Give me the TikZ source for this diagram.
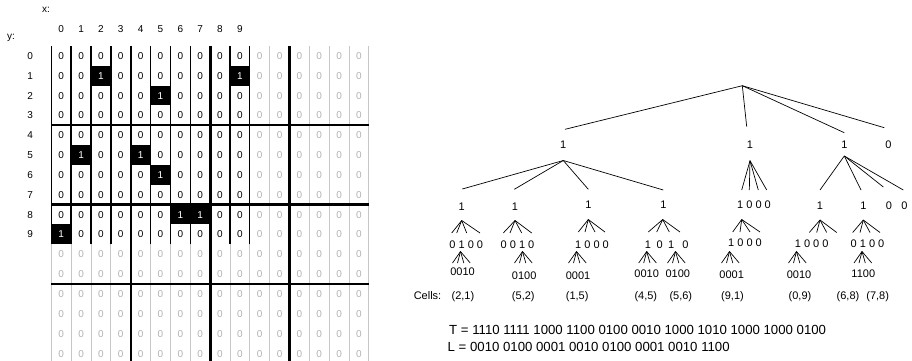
\documentclass[tikz,border=0pt]{standalone}
\usepackage{fontspec}
\setmainfont{Liberation Sans}
\usetikzlibrary{calc}
\newcommand\fan[3]{%
  \coordinate (#1) at (#2);
  \foreach \dx/\dy [count=\k] in {#3} {
    \coordinate (#1-\k) at ($(#1)+(\dx,\dy)$);
    \draw[edge] (#1) -- (#1-\k);
  }}
\newcommand\leaffan[2]{\fan{#1}{#2}{-8/11.5,-3/11.5,3.3/11.5,9.7/11.5}}
\begin{document}
\begin{tikzpicture}[x=1pt,y=-1pt,
  edge/.style={line width=0.7pt},
  g0/.style={font=\fontsize{10}{12}\selectfont,anchor=base,yshift=-3.6pt,inner sep=0pt},
  gz/.style={text=gray!60},
  t11/.style={font=\fontsize{11}{13}\selectfont,anchor=base,yshift=-3.95pt,inner sep=0pt},
  t13/.style={font=\fontsize{13.2}{15}\selectfont,anchor=base west,yshift=-4.7pt,inner sep=0pt},
  gridgray/.style={draw=gray!45,line width=0.8pt},
  cellblack/.style={draw=black,line width=1.4pt},
  quad/.style={line width=2.2pt},
  half/.style={line width=2.8pt}]
\useasboundingbox (0,0) rectangle (912,360);
\clip (0,0) rectangle (912,360);
% ---------- grid ----------
\node[g0] (xlab) at (46,9) {x:};
\node[g0] (ylab) at (11,36) {y:};
\begin{scope}[shift={(51.3,45.8)},x=19.85pt,y=-19.85pt]
  \draw[gridgray,step=1] (0,0) grid (16,16);
  \foreach \i in {0,...,15}{\foreach \j in {0,...,15}{
    \pgfmathtruncatemacro\inside{and(\i<10,\j<10)}
    \ifnum\inside=1
      \node[g0] (c-\i-\j) at (\i+.5,\j+.5) {0};
    \else
      \node[g0,gz] (c-\i-\j) at (\i+.5,\j+.5) {0};
    \fi
  }}
  \draw[cellblack,step=1] (0,0) grid (10,10);
  \foreach \i/\j in {2/1,9/1,5/2,1/5,4/5,5/6,6/8,7/8,0/9}{
    \fill (\i,\j) rectangle ++(1,1);
    \node[g0,text=white] (one-\i-\j) at (\i+.5,\j+.5) {1};
  }
  \draw[quad] (4,0) -- (4,16);
  \draw[quad] (12,0) -- (12,16);
  \draw[quad] (0,4) -- (16,4);
  \draw[quad] (0,12) -- (16,12);
  \draw[half] (8,0) -- (8,16);
  \draw[half] (0,8) -- (16,8);
  \foreach \i in {0,...,9}{
    \node[g0] (col-\i) at (\i+.5,-0.87) {\i};
    \node[g0] (row-\i) at (-1.07,\i+.5) {\i};
  }
\end{scope}
% ---------- tree ----------
\fan{r}{742.3,85.7}{-177.3/43.6,4.4/41,102/47,142/42}
\node[t11] (nA) at (563.3,144.3) {1};
\node[t11] (nB) at (750,144.3) {1};
\node[t11] (nC) at (844.3,144.3) {1};
\node[t11] (nD) at (888.3,144.3) {0};
\fan{fA}{563.3,160.5}{-101/28.5,-49/28.8,25/28.8,100/29.5}
\fan{fB}{750,160.7}{-8.3/29.3,-0.7/29.3,8.3/29.3,16.7/29.3}
\fan{fC}{844.3,156}{-24.3/34,16.7/34,39/31,59/34}
% level 2
\node[t11] (a1) at (461.7,206.7) {1};
\node[t11] (a2) at (515,206.7) {1};
\node[t11] (a3) at (588.3,205) {1};
\node[t11] (a4) at (663.3,205) {1};
\node[t11] (b1) at (754,205) {1 0 0 0};
\node[t11] (c1) at (820,205.5) {1};
\node[t11] (c2) at (863.3,205.5) {1};
\node[t11] (c3) at (889,205.5) {0};
\node[t11] (c4) at (904.3,205.5) {0};
% level 2 -> 3
\fan{ga1}{461.7,220.5}{-10/12.5,-5/12.5,5/12.5,18.3/12.5}
\fan{ga2}{515,220.5}{-11.7/12.5,-5/12.5,6.7/12.5,16.7/12.5}
\fan{ga3}{588.3,219.5}{-10/12.5,-3.3/12.5,6.7/12.5,16.7/12.5}
\fan{ga4}{662.7,219.5}{-14.4/12.5,-6/12.5,6.6/12.5,17.3/12.5}
\fan{gb1}{741.7,219.5}{-9/12.5,-1.7/12.5,8.3/12.5,18.3/12.5}
\fan{gc1}{820,220}{-10.7/12.5,-3.3/12.5,6.7/12.5,16.7/12.5}
\fan{gc2}{863.3,220}{-10.6/12.5,-3.3/12.5,6.7/12.5,16.7/12.5}
% level 3
\node[t11] (d1) at (466.3,244.3) {0 1 0 0};
\node[t11] (d2) at (517.5,244.3) {0 0 1 0};
\node[t11] (d3) at (592,244.7) {1 0 0 0};
\node[t11] (d4) at (666.7,244.3) {1\hspace{5.5pt}0\hspace{5.5pt}1\hspace{8pt}0};
\node[t11] (d5) at (745,242.3) {1 0 0 0};
\node[t11] (d6) at (811.7,244) {1 0 0 0};
\node[t11] (d7) at (867.5,244) {0 1 0 0};
% level 3 -> 4
\leaffan{h1}{460.5,251.5}
\leaffan{h2}{522.5,251.5}
\leaffan{h3}{576.5,251.5}
\leaffan{h4}{646.7,251.5}
\leaffan{h5}{675.5,251.5}
\leaffan{h6}{729.5,251.5}
\leaffan{h7}{796.5,251.5}
\leaffan{h8}{862,251.5}
% leaves
\node[t11] (e1) at (462.5,272) {0010};
\node[t11] (e2) at (524.2,275.5) {0100};
\node[t11] (e3) at (578,275.5) {0001};
\node[t11] (e4) at (646.7,273.3) {0010};
\node[t11] (e5) at (677.8,273.3) {0100};
\node[t11] (e6) at (731.7,274.5) {0001};
\node[t11] (e7) at (799,274.5) {0010};
\node[t11] (e8) at (863.3,273.3) {1100};
% cells
\node[t11] (cells) at (427.5,295.7) {Cells:};
\node[t11] (p1) at (462.9,295.7) {(2,1)};
\node[t11] (p2) at (523.3,295.7) {(5,2)};
\node[t11] (p3) at (577.2,295.7) {(1,5)};
\node[t11] (p4) at (645.8,295.7) {(4,5)};
\node[t11] (p5) at (680.8,295.7) {(5,6)};
\node[t11] (p6) at (732.5,295.7) {(9,1)};
\node[t11] (p7) at (800,295.7) {(0,9)};
\node[t11] (p8) at (848,295.7) {(6,8)};
\node[t11] (p9) at (877.7,295.7) {(7,8)};
% T and L
\node[t13] (T) at (449,330) {T = 1110 1111 1000 1100 0100 0010 1000 1010 1000 1000 0100};
\node[t13] (L) at (447.5,347) {L = 0010 0100 0001 0010 0100 0001 0010 1100};
\end{tikzpicture}
\end{document}
